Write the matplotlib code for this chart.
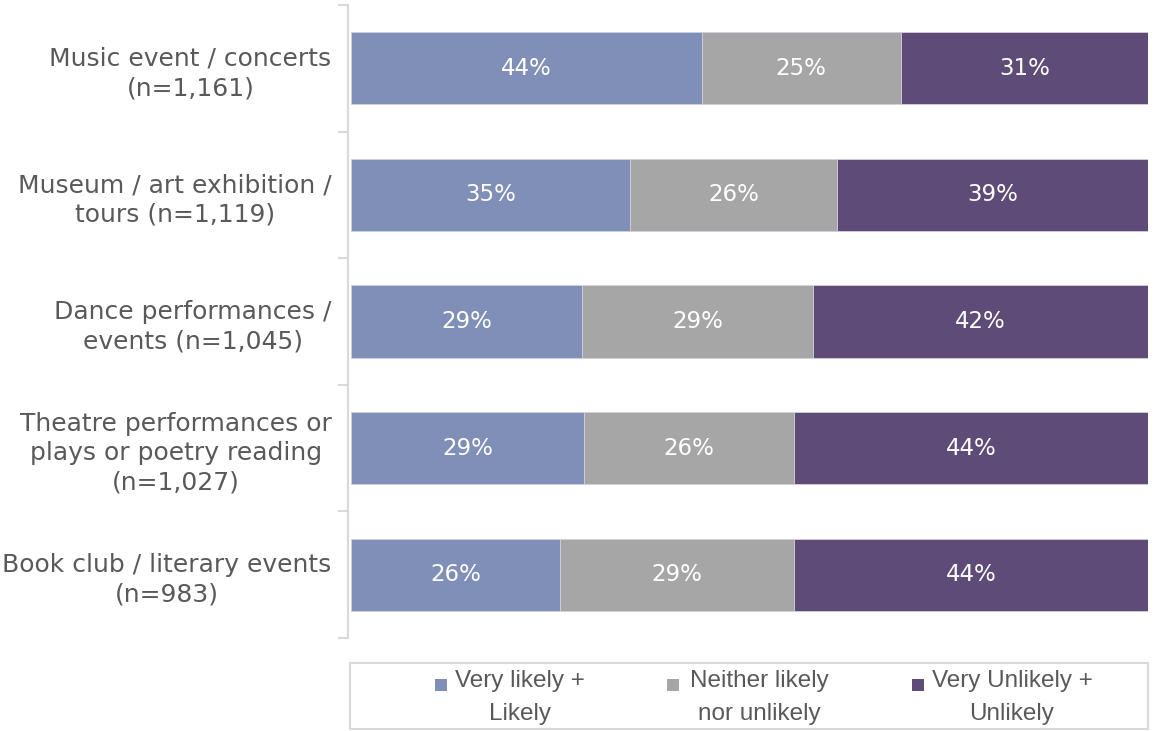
import matplotlib
matplotlib.use("Agg")
import matplotlib.pyplot as plt
import numpy as np
from matplotlib import font_manager
from matplotlib.patches import Rectangle

categories = [
    "Music event / concerts\n(n=1,161)",
    "Museum / art exhibition /\ntours (n=1,119)",
    "Dance performances /\nevents (n=1,045)",
    "Theatre performances or\nplays or poetry reading\n(n=1,027)",
    "Book club / literary events\n(n=983)",
]
likely = [44, 35, 29, 29, 26]
neither = [25, 26, 29, 26, 29]
unlikely = [31, 39, 42, 44, 44]

series_names = ["Very likely +\nLikely", "Neither likely\nnor unlikely", "Very Unlikely +\nUnlikely"]
colors = ["#7F8FB8", "#A6A6A6", "#5E4B78"]

available = {f.name for f in font_manager.fontManager.ttflist}
def pick(*names):
    for n in names:
        if n in available:
            return n
    return "DejaVu Sans"

main_font = pick("DejaVu Sans", "Open Sans")
legend_font = pick("Liberation Sans Narrow", "Arial Narrow", "Liberation Sans")

W, H = 1164, 731
fig = plt.figure(figsize=(W / 100, H / 100), dpi=100)
ax = fig.add_axes([351 / W, 1 - 638 / H, (1148 - 351) / W, (638 - 5) / H])

series = np.array([likely, neither, unlikely], dtype=float)
shares = series / series.sum(axis=0) * 100  # 100% stacked bars
y = np.arange(len(categories))
left = np.zeros(len(categories))
for vals, raw, col in zip(shares, series, colors):
    bars = ax.barh(y, vals, left=left, height=0.57, color=col,
                   edgecolor="#D0D0DC", linewidth=0.6)
    for b, r in zip(bars, raw):
        ax.text(b.get_x() + b.get_width() / 2, b.get_y() + b.get_height() / 2,
                f"{int(r)}%", ha="center", va="center", color="white",
                fontsize=16.5, family=main_font)
    left += vals

ax.set_xlim(0, 100)
ax.set_ylim(len(categories) - 0.5, -0.5)
ax.set_xticks([])
for s in ["top", "right", "bottom"]:
    ax.spines[s].set_visible(False)
ax.spines["left"].set_color("#D9D9D9")
ax.spines["left"].set_linewidth(1.5)
ax.spines["left"].set_position(("outward", 2))

# category labels on bar centres, separators as minor ticks
ax.set_yticks(y)
ax.set_yticklabels(categories, fontsize=18, color="#595959", family=main_font,
                   ha="right", multialignment="center", linespacing=1.29)
ax.tick_params(axis="y", which="major", length=0, pad=12)
ax.set_yticks(np.arange(-0.5, len(categories)), minor=True)
ax.tick_params(axis="y", which="minor", length=7, width=1.5, color="#D9D9D9")

# legend panel
lax = fig.add_axes([0, 0, 1, 1], facecolor="none")
lax.set_xlim(0, W)
lax.set_ylim(H, 0)
lax.axis("off")
lax.add_patch(Rectangle((350, 663), 798, 66, facecolor="white",
                        edgecolor="#D9D9D9", linewidth=1.5))
marker_x = [435, 667, 912]
text_x = [520, 759, 1012]
for mx, tx, name, col in zip(marker_x, text_x, series_names, colors):
    lax.add_patch(Rectangle((mx, 679), 12, 12, facecolor=col, edgecolor="none"))
    lax.text(tx, 670, name, ha="center", va="top", fontsize=17.5,
             color="#595959", family=legend_font, linespacing=1.62)

fig.savefig("out.png", dpi=100)
